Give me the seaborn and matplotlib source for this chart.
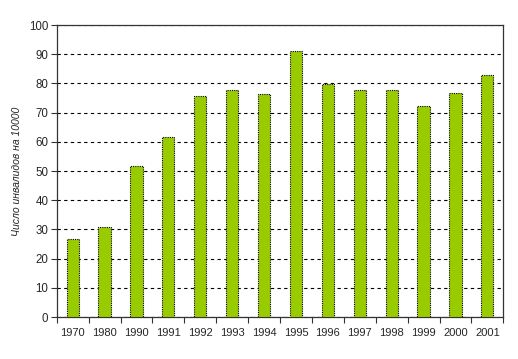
import pandas as pd
import matplotlib.pyplot as plt
import seaborn as sns

# data
years = ["1970", "1980", "1990", "1991", "1992", "1993", "1994",
         "1995", "1996", "1997", "1998", "1999", "2000", "2001"]
values = [26.6, 30.7, 51.7, 61.6, 75.6, 77.6, 76.3,
          91.0, 79.7, 77.6, 77.6, 72.2, 76.6, 82.8]

df = pd.DataFrame({"year": years, "value": values})

sns.set_theme(style="white")
plt.rcParams["font.family"] = ["Liberation Sans", "DejaVu Sans"]

fig = plt.figure(figsize=(5.18, 3.59), dpi=100)
ax = fig.add_axes([56.7 / 518, 1 - 317 / 359, (503.3 - 56.7) / 518, (317 - 25) / 359])

sns.barplot(data=df, x="year", y="value", color="#99CC00", width=0.38,
            saturation=1, edgecolor="black", linewidth=0.8, linestyle=(0, (1, 1)),
            ax=ax, zorder=3)

ax.set_ylim(0, 100)
ax.set_xlim(-0.5, len(years) - 0.5)
ax.set_yticks(range(0, 101, 10))
ax.yaxis.grid(True, color="black", linestyle=(0, (3, 3)), linewidth=0.8)
ax.set_axisbelow(True)

# x ticks sit between categories, labels centered under bars
ax.set_xticks([i - 0.5 for i in range(len(years) + 1)], minor=False)
ax.set_xticklabels([""] * (len(years) + 1))
ax.set_xticks(range(len(years)), minor=True)
ax.set_xticklabels(years, minor=True)
ax.tick_params(axis="x", which="major", direction="out", length=4, width=0.8, color="#333333")
ax.tick_params(axis="x", which="minor", length=0, pad=8, labelsize=8)
ax.tick_params(axis="y", direction="out", length=4, width=0.8, color="#333333",
               labelsize=8.3, pad=2)
ax.tick_params(axis="both", bottom=True, left=True)

for s in ax.spines.values():
    s.set_color("#333333")
    s.set_linewidth(0.9)

ax.set_xlabel("")
ax.set_ylabel("Число инвалидов на 10000", fontsize=7.5, style="italic", labelpad=5)

fig.savefig("out.png", dpi=100)
